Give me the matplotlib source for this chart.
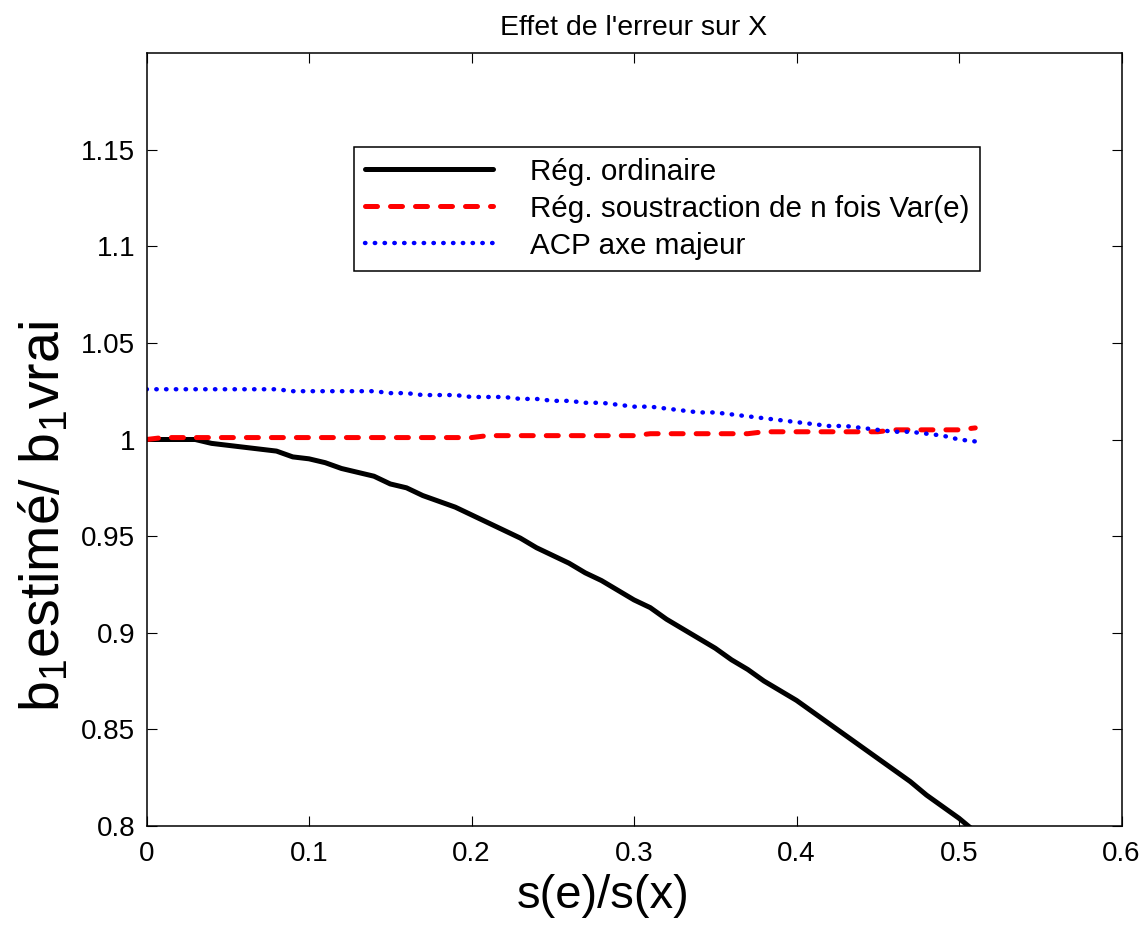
import numpy as np
import matplotlib
matplotlib.use("Agg")
import matplotlib.pyplot as plt
from matplotlib import rcParams

rcParams["font.family"] = ["Liberation Sans", "DejaVu Sans"]
rcParams["mathtext.default"] = "regular"

# rapport s(e)/s(x)
ratio = [0.00, 0.01, 0.02, 0.03, 0.04, 0.05, 0.06, 0.07, 0.08, 0.09,
         0.10, 0.11, 0.12, 0.13, 0.14, 0.15, 0.16, 0.17, 0.18, 0.19,
         0.20, 0.21, 0.22, 0.23, 0.24, 0.25, 0.26, 0.27, 0.28, 0.29,
         0.30, 0.31, 0.32, 0.33, 0.34, 0.35, 0.36, 0.37, 0.38, 0.39,
         0.40, 0.41, 0.42, 0.43, 0.44, 0.45, 0.46, 0.47, 0.48, 0.49,
         0.50, 0.51]

# régression ordinaire
b_ordinaire = [1.000, 1.000, 1.000, 1.000, 0.998, 0.997, 0.996, 0.995, 0.994, 0.991,
               0.990, 0.988, 0.985, 0.983, 0.981, 0.977, 0.975, 0.971, 0.968, 0.965,
               0.961, 0.957, 0.953, 0.949, 0.944, 0.940, 0.936, 0.931, 0.927, 0.922,
               0.917, 0.913, 0.907, 0.902, 0.897, 0.892, 0.886, 0.881, 0.875, 0.870,
               0.865, 0.859, 0.853, 0.847, 0.841, 0.835, 0.829, 0.823, 0.816, 0.810,
               0.804, 0.797]

# régression corrigée (soustraction de n fois Var(e))
b_corrige = [1.000, 1.001, 1.001, 1.001, 1.001, 1.001, 1.001, 1.001, 1.001, 1.001,
             1.001, 1.001, 1.001, 1.001, 1.001, 1.001, 1.001, 1.001, 1.001, 1.001,
             1.001, 1.002, 1.002, 1.002, 1.002, 1.002, 1.002, 1.002, 1.002, 1.002,
             1.002, 1.003, 1.003, 1.003, 1.003, 1.003, 1.003, 1.003, 1.004, 1.004,
             1.004, 1.004, 1.004, 1.004, 1.004, 1.004, 1.005, 1.005, 1.005, 1.005,
             1.005, 1.006]

# ACP axe majeur
b_acp = [1.026, 1.026, 1.026, 1.026, 1.026, 1.026, 1.026, 1.026, 1.026, 1.025,
         1.025, 1.025, 1.025, 1.025, 1.025, 1.024, 1.024, 1.023, 1.023, 1.023,
         1.022, 1.022, 1.022, 1.021, 1.021, 1.020, 1.020, 1.019, 1.019, 1.018,
         1.017, 1.017, 1.016, 1.015, 1.014, 1.014, 1.013, 1.012, 1.011, 1.010,
         1.009, 1.008, 1.007, 1.007, 1.006, 1.005, 1.004, 1.004, 1.003, 1.002,
         1.000, 0.999]

xticks = [0, 0.1, 0.2, 0.3, 0.4, 0.5, 0.6]
xtick_labels = ["0", "0.1", "0.2", "0.3", "0.4", "0.5", "0.6"]
yticks = [0.8, 0.85, 0.9, 0.95, 1.0, 1.05, 1.1, 1.15]
ytick_labels = ["0.8", "0.85", "0.9", "0.95", "1", "1.05", "1.1", "1.15"]

fig = plt.figure(figsize=(11.48, 9.42), dpi=100)
ax = fig.add_axes([146.5 / 1148, (942 - 826) / 942, 975 / 1148, 773 / 942])

ax.plot(ratio, b_ordinaire, color="black", lw=3.6, solid_capstyle="round",
        label="Rég. ordinaire")
ax.plot(ratio, b_corrige, color="red", lw=3.6, dashes=(2.4, 2.6),
        dash_capstyle="round", label="Rég. soustraction de n fois Var(e)")
ax.plot(ratio, b_acp, color="blue", lw=3.2, dashes=(0.1, 2.1),
        dash_capstyle="round", label="ACP axe majeur")

ax.set_xlim(0, 0.6)
ax.set_ylim(0.8, 1.2)
ax.set_xticks(xticks)
ax.set_xticklabels(xtick_labels)
ax.set_yticks(yticks)
ax.set_yticklabels(ytick_labels)
ax.tick_params(direction="in", length=7, width=0.8, labelsize=20,
               top=True, right=True)
ax.tick_params(axis="x", pad=11)
ax.tick_params(axis="y", pad=8)
for sp in ax.spines.values():
    sp.set_linewidth(1.1)

ax.set_title("Effet de l'erreur sur X", fontsize=20.5, pad=13)
ax.set_xlabel("s(e)/s(x)", fontsize=34, va="top")
ax.xaxis.set_label_coords(0.468, -0.062)
ax.set_ylabel("b$_1$estimé/ b$_1$vrai", fontsize=40)
ax.yaxis.set_label_coords(-0.077, 0.40)

leg = ax.legend(loc="upper left", bbox_to_anchor=(0.213, 0.879), fontsize=21.3,
                handlelength=4.3, handletextpad=1.25, labelspacing=0.3,
                borderpad=0.38, borderaxespad=0, fancybox=False,
                edgecolor="black", framealpha=1)
leg.get_frame().set_linewidth(1.1)

fig.savefig("out.png", dpi=100)
